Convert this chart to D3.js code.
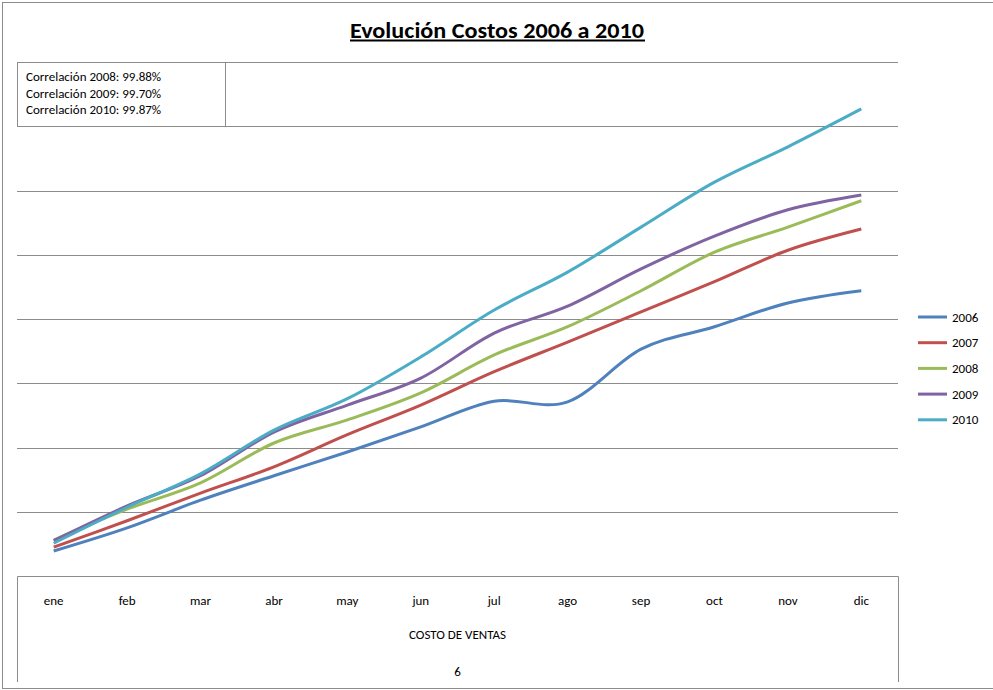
<!DOCTYPE html>
<html>
<head>
<meta charset="utf-8">
<script src="https://cdn.jsdelivr.net/npm/d3@7/dist/d3.min.js"></script>
<style>
  html, body { margin: 0; padding: 0; background: #fff; }
  svg { display: block; font-family: Carlito, Lato, "Open Sans", sans-serif; }
</style>
</head>
<body>
<svg id="chart" width="993" height="690"></svg>
<script>
// Monthly cost of sales, one array per year
const months = ["ene", "feb", "mar", "abr", "may", "jun", "jul", "ago", "sep", "oct", "nov", "dic"];
const years = ["2006", "2007", "2008", "2009", "2010"];
const costs2006 = [39, 75, 118, 156, 193, 232, 272, 271, 353, 388, 425, 444];
const costs2007 = [45, 86, 129, 170, 220, 266, 318, 364, 411, 458, 507, 540];
const costs2008 = [56, 104, 145, 207, 243, 285, 344, 388, 444, 504, 543, 584];
const costs2009 = [55, 109, 156, 224, 266, 308, 378, 420, 478, 529, 570, 593];
const costs2010 = [51, 107, 159, 227, 276, 341, 414, 473, 543, 613, 668, 727];
const correlationLines = [
  "Correlación 2008: 99.88%",
  "Correlación 2009: 99.70%",
  "Correlación 2010: 99.87%"
];
const gridTicks = [100, 200, 300, 400, 500, 600, 700, 800];
const titleText = "Evolución Costos 2006 a 2010";
const axisTitle = "COSTO DE VENTAS";
const footerText = "6";

const seriesValues = [costs2006, costs2007, costs2008, costs2009, costs2010];
const colors = ["#4F81BD", "#C0504D", "#9BBB59", "#8064A2", "#4BACC6"];

const svg = d3.select("#chart");
const plotLeft = 17, plotRight = 898, plotTop = 62, plotBottom = 576;
const fontSize = 13;

// outer chart frame
svg.append("rect")
  .attr("x", 2.5).attr("y", 2.5).attr("width", 1000).attr("height", 686)
  .attr("fill", "none").attr("stroke", "#8c8c8c").attr("stroke-width", 1);

const x = d3.scalePoint().domain(months).range([plotLeft, plotRight]).padding(0.5);
const y = d3.scaleLinear().domain([0, 800]).range([plotBottom, plotTop]);

// horizontal gridlines
svg.append("g")
  .selectAll("line")
  .data(gridTicks)
  .join("line")
  .attr("x1", plotLeft).attr("x2", plotRight)
  .attr("y1", d => Math.round(y(d)) + 0.5).attr("y2", d => Math.round(y(d)) + 0.5)
  .attr("stroke", "#8c8c8c").attr("stroke-width", 1);

// category axis box
const boxBottom = 682;
svg.append("path")
  .attr("d", `M${plotLeft + 0.5},${boxBottom} V${plotBottom + 0.5} H${plotRight + 0.5} V${boxBottom}`)
  .attr("fill", "none").attr("stroke", "#8c8c8c").attr("stroke-width", 1);

svg.append("g")
  .selectAll("text")
  .data(months)
  .join("text")
  .attr("x", d => x(d)).attr("y", 604.5)
  .attr("text-anchor", "middle")
  .attr("font-size", fontSize).attr("fill", "#000")
  .text(d => d);

svg.append("text")
  .attr("x", (plotLeft + plotRight) / 2).attr("y", 638.5)
  .attr("text-anchor", "middle").attr("font-size", fontSize)
  .text(axisTitle);

svg.append("text")
  .attr("x", (plotLeft + plotRight) / 2).attr("y", 675.5)
  .attr("text-anchor", "middle").attr("font-size", fontSize)
  .text(footerText);

// series lines, smoothed
const line = d3.line()
  .x((d, i) => x(months[i]))
  .y(d => y(d))
  .curve(d3.curveCardinal.tension(0));

svg.append("g")
  .selectAll("path")
  .data(seriesValues)
  .join("path")
  .attr("d", d => line(d))
  .attr("fill", "none")
  .attr("stroke", (d, i) => colors[i])
  .attr("stroke-width", 3)
  .attr("stroke-linejoin", "round");

// correlation note box
svg.append("rect")
  .attr("x", 17.5).attr("y", 62.5).attr("width", 208).attr("height", 64)
  .attr("fill", "#fff").attr("stroke", "#8c8c8c").attr("stroke-width", 1);

svg.append("g")
  .selectAll("text")
  .data(correlationLines)
  .join("text")
  .attr("x", 26).attr("y", (d, i) => 81 + i * 16.7)
  .attr("font-size", fontSize).attr("fill", "#000")
  .text(d => d);

// title
svg.append("text")
  .attr("x", 497).attr("y", 38)
  .attr("text-anchor", "middle")
  .attr("font-size", 22).attr("font-weight", "bold")
  .attr("textLength", 294).attr("lengthAdjust", "spacingAndGlyphs")
  .text(titleText);
svg.append("line")
  .attr("x1", 350).attr("x2", 645).attr("y1", 40.5).attr("y2", 40.5)
  .attr("stroke", "#000").attr("stroke-width", 2);

// legend
const legend = svg.append("g")
  .selectAll("g")
  .data(years)
  .join("g")
  .attr("transform", (d, i) => `translate(918, ${317 + i * 25.7})`);
legend.append("line")
  .attr("x1", 0).attr("x2", 29).attr("y1", 0).attr("y2", 0)
  .attr("stroke", (d, i) => colors[i]).attr("stroke-width", 3);
legend.append("text")
  .attr("x", 34).attr("y", 4.5)
  .attr("font-size", fontSize)
  .text(d => d);
</script>
</body>
</html>
